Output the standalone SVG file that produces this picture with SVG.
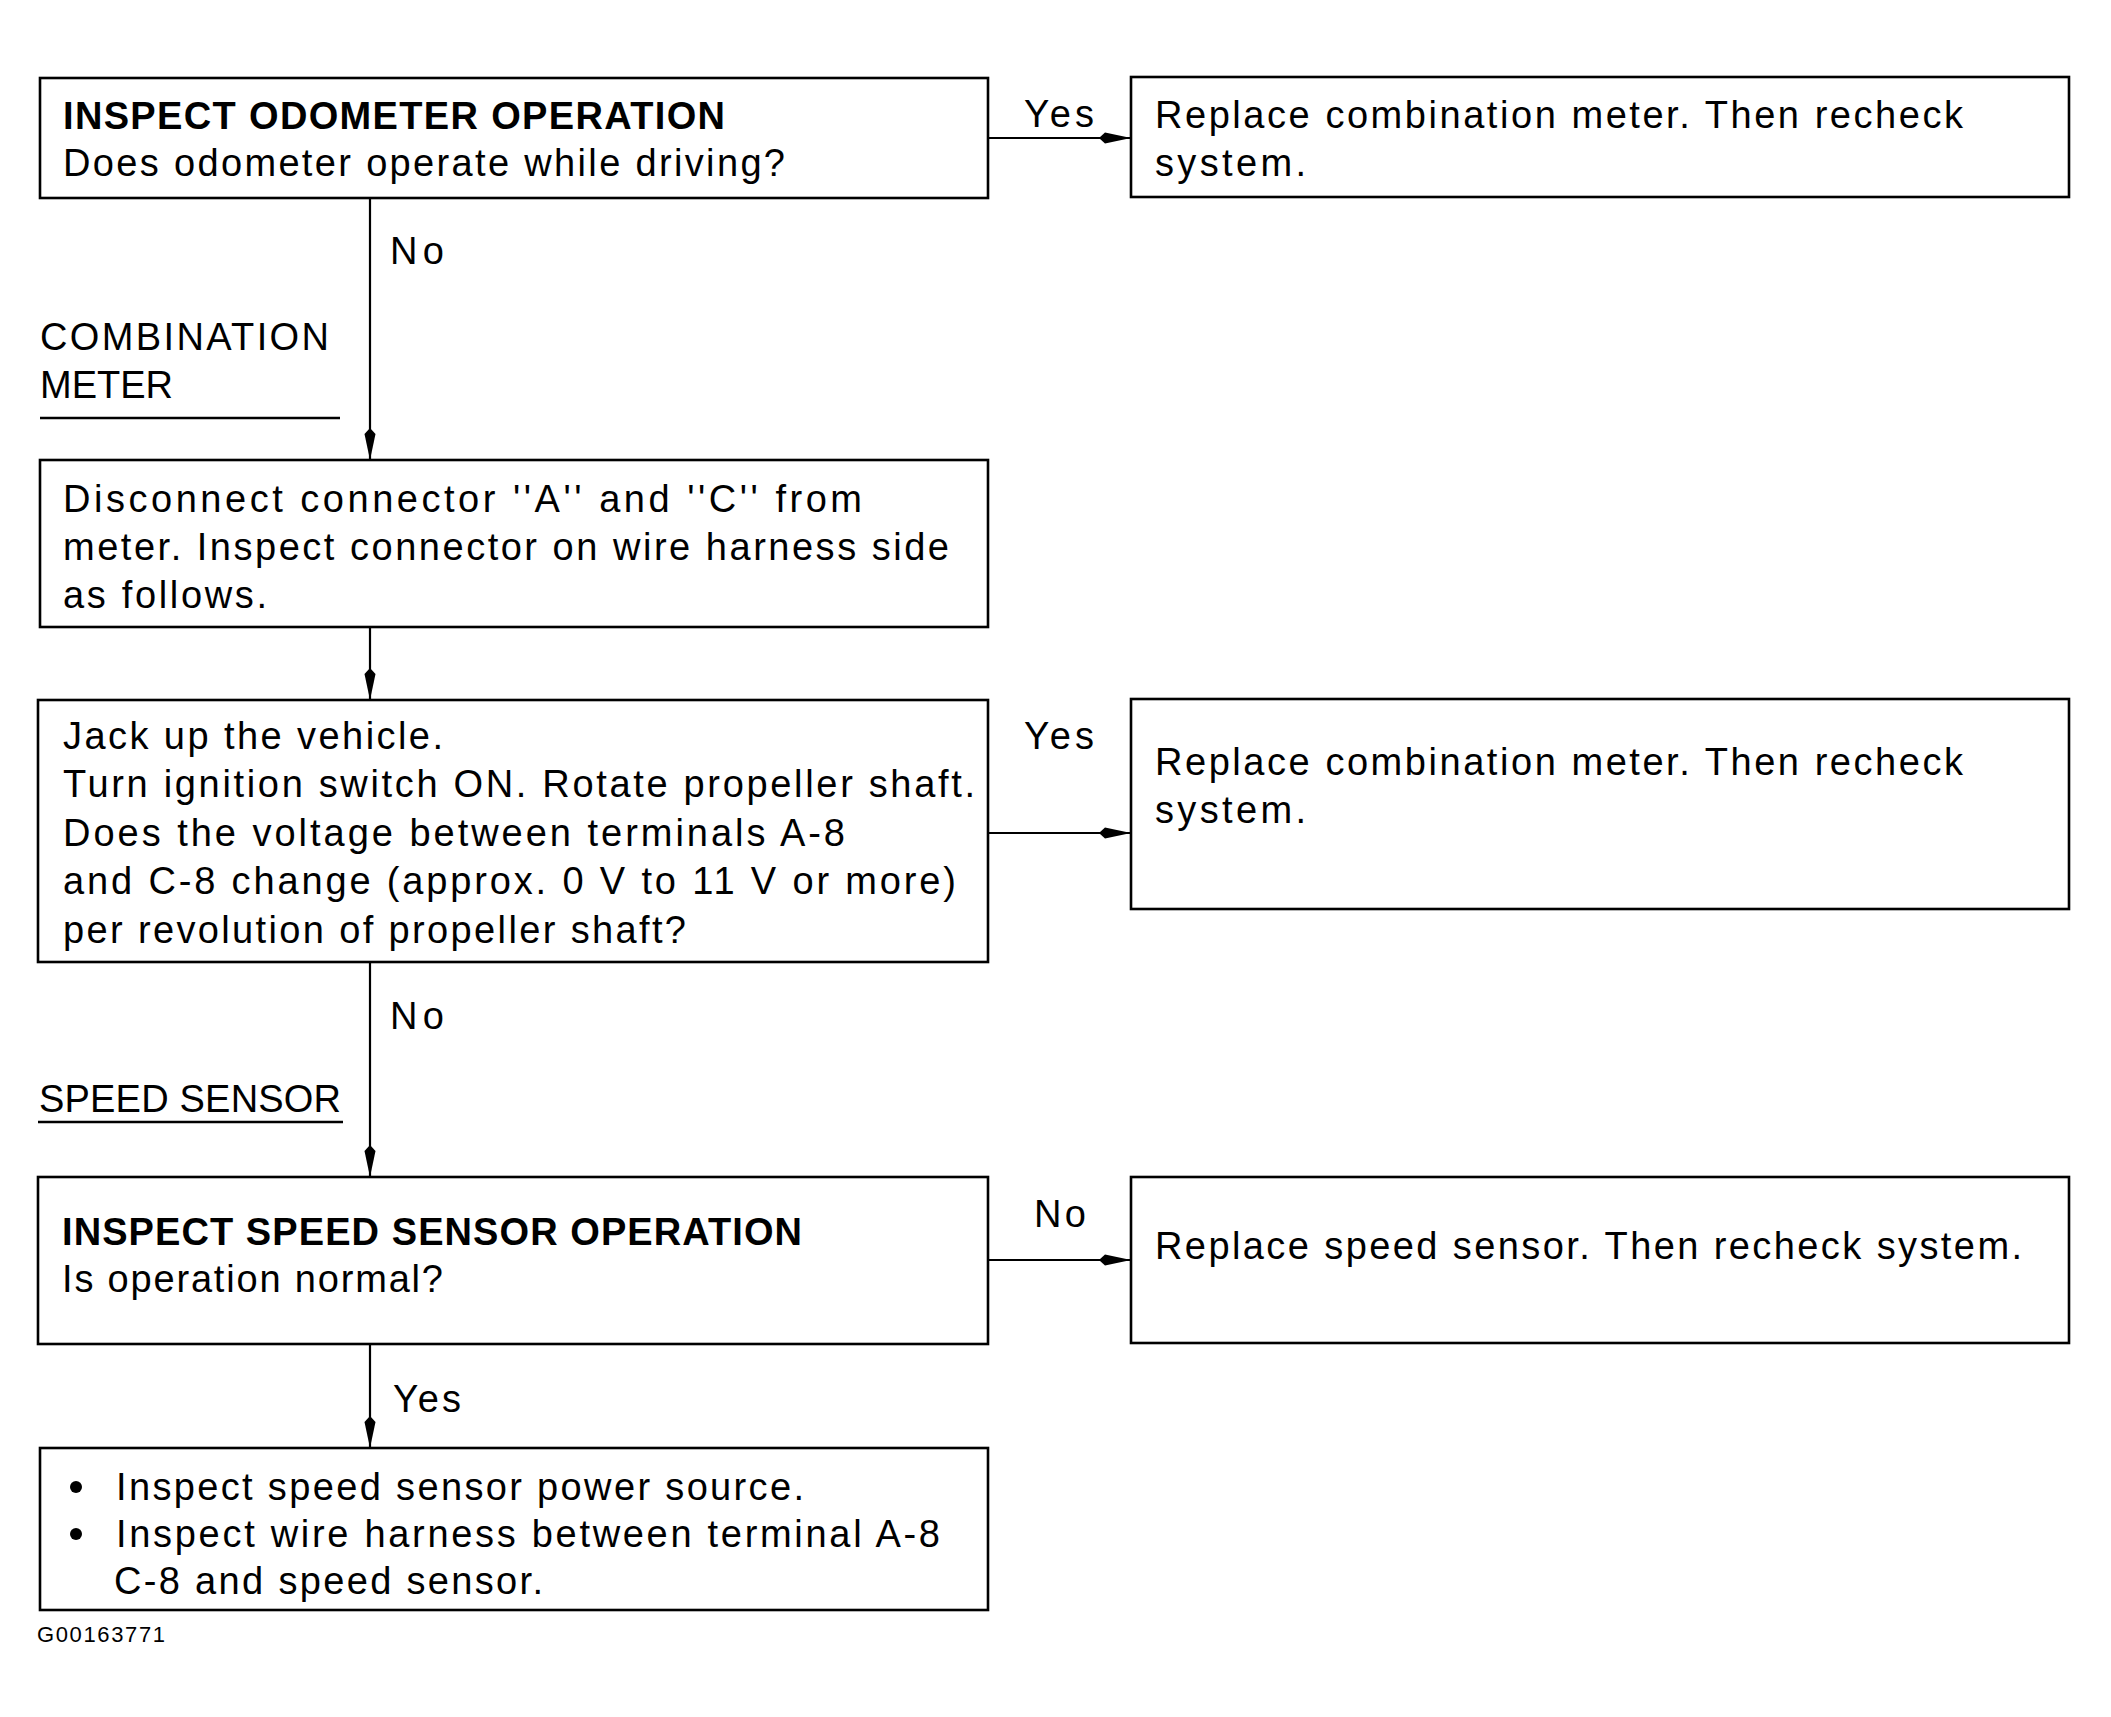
<svg xmlns="http://www.w3.org/2000/svg" width="2111" height="1717" viewBox="0 0 2111 1717">
<style>
.box{fill:#fff;stroke:#000;stroke-width:2.6}
.t{font-family:"Liberation Sans",Arial,Helvetica,sans-serif;font-size:38px;fill:#000}
.b{font-weight:bold}
.edge{fill:none;stroke:#000;stroke-width:2.2}
.ul{stroke:#000;stroke-width:2.4}
</style>
<defs>
<marker id="arr" markerUnits="userSpaceOnUse" markerWidth="34" markerHeight="14" refX="32" refY="7" orient="auto">
<path d="M0,7 L6,1.5 L32,7 L6,12.5 z" fill="#000"/>
</marker>
</defs>
<rect width="2111" height="1717" fill="#fff"/>

<g id="connectors">
<line class="edge" x1="370" y1="198" x2="370" y2="460" marker-end="url(#arr)"/>
<line class="edge" x1="988" y1="138" x2="1131" y2="138" marker-end="url(#arr)"/>
<line class="edge" x1="370" y1="627" x2="370" y2="700" marker-end="url(#arr)"/>
<line class="edge" x1="988" y1="833" x2="1131" y2="833" marker-end="url(#arr)"/>
<line class="edge" x1="370" y1="962" x2="370" y2="1177" marker-end="url(#arr)"/>
<line class="edge" x1="988" y1="1260" x2="1131" y2="1260" marker-end="url(#arr)"/>
<line class="edge" x1="370" y1="1344" x2="370" y2="1448" marker-end="url(#arr)"/>
<text class="t" x="1024" y="127" textLength="70" lengthAdjust="spacing">Yes</text>
<text class="t" x="390" y="264" textLength="54" lengthAdjust="spacing">No</text>
<text class="t" x="1024" y="749" textLength="70" lengthAdjust="spacing">Yes</text>
<text class="t" x="390" y="1029" textLength="54" lengthAdjust="spacing">No</text>
<text class="t" x="1034" y="1227" textLength="52" lengthAdjust="spacing">No</text>
<text class="t" x="393" y="1412" textLength="68" lengthAdjust="spacing">Yes</text>
</g>

<g id="label-combination-meter">
<text class="t" x="40" y="350" textLength="289" lengthAdjust="spacing">COMBINATION</text>
<text class="t" x="40" y="398" textLength="133" lengthAdjust="spacing">METER</text>
<line class="ul" x1="40" y1="418" x2="340" y2="418"/>
</g>

<g id="label-speed-sensor">
<text class="t" x="39" y="1112" textLength="302" lengthAdjust="spacing">SPEED SENSOR</text>
<line class="ul" x1="38" y1="1122" x2="343" y2="1122"/>
</g>

<g id="node-inspect-odometer">
<rect class="box" x="40" y="78" width="948" height="120"/>
<text class="t b" x="63" y="129" textLength="662" lengthAdjust="spacing">INSPECT ODOMETER OPERATION</text>
<text class="t" x="63" y="176" textLength="722" lengthAdjust="spacing">Does odometer operate while driving?</text>
</g>

<g id="node-replace-meter-1">
<rect class="box" x="1131" y="77" width="938" height="120"/>
<text class="t" x="1155" y="128" textLength="808" lengthAdjust="spacing">Replace combination meter. Then recheck</text>
<text class="t" x="1155" y="176" textLength="151" lengthAdjust="spacing">system.</text>
</g>

<g id="node-disconnect">
<rect class="box" x="40" y="460" width="948" height="167"/>
<text class="t" x="63" y="512" textLength="799" lengthAdjust="spacing">Disconnect connector ''A'' and ''C'' from</text>
<text class="t" x="63" y="560" textLength="886" lengthAdjust="spacing">meter. Inspect connector on wire harness side</text>
<text class="t" x="63" y="608" textLength="204" lengthAdjust="spacing">as follows.</text>
</g>

<g id="node-jack-up">
<rect class="box" x="38" y="700" width="950" height="262"/>
<text class="t" x="63" y="749" textLength="380" lengthAdjust="spacing">Jack up the vehicle.</text>
<text class="t" x="63" y="797" textLength="912" lengthAdjust="spacing">Turn ignition switch ON. Rotate propeller shaft.</text>
<text class="t" x="63" y="846" textLength="782" lengthAdjust="spacing">Does the  voltage between terminals A-8</text>
<text class="t" x="63" y="894" textLength="893" lengthAdjust="spacing">and C-8 change (approx. 0 V to 11 V or more)</text>
<text class="t" x="63" y="943" textLength="623" lengthAdjust="spacing">per revolution of propeller shaft?</text>
</g>

<g id="node-replace-meter-2">
<rect class="box" x="1131" y="699" width="938" height="210"/>
<text class="t" x="1155" y="775" textLength="808" lengthAdjust="spacing">Replace combination meter. Then recheck</text>
<text class="t" x="1155" y="823" textLength="151" lengthAdjust="spacing">system.</text>
</g>

<g id="node-inspect-speed-sensor">
<rect class="box" x="38" y="1177" width="950" height="167"/>
<text class="t b" x="62" y="1245" textLength="740" lengthAdjust="spacing">INSPECT SPEED SENSOR OPERATION</text>
<text class="t" x="62" y="1292" textLength="381" lengthAdjust="spacing">Is operation normal?</text>
</g>

<g id="node-replace-speed-sensor">
<rect class="box" x="1131" y="1177" width="938" height="166"/>
<text class="t" x="1155" y="1259" textLength="867" lengthAdjust="spacing">Replace speed sensor. Then recheck system.</text>
</g>

<g id="node-inspect-power">
<rect class="box" x="40" y="1448" width="948" height="162"/>
<circle cx="76" cy="1487" r="6"/>
<circle cx="76" cy="1534" r="6"/>
<text class="t" x="116" y="1500" textLength="688" lengthAdjust="spacing">Inspect speed sensor power source.</text>
<text class="t" x="116" y="1547" textLength="824" lengthAdjust="spacing">Inspect wire harness between terminal A-8</text>
<text class="t" x="114" y="1594" textLength="429" lengthAdjust="spacing">C-8 and speed sensor.</text>
</g>

<text class="t" x="37" y="1642" style="font-size:22px" textLength="128" lengthAdjust="spacing">G00163771</text>
</svg>
